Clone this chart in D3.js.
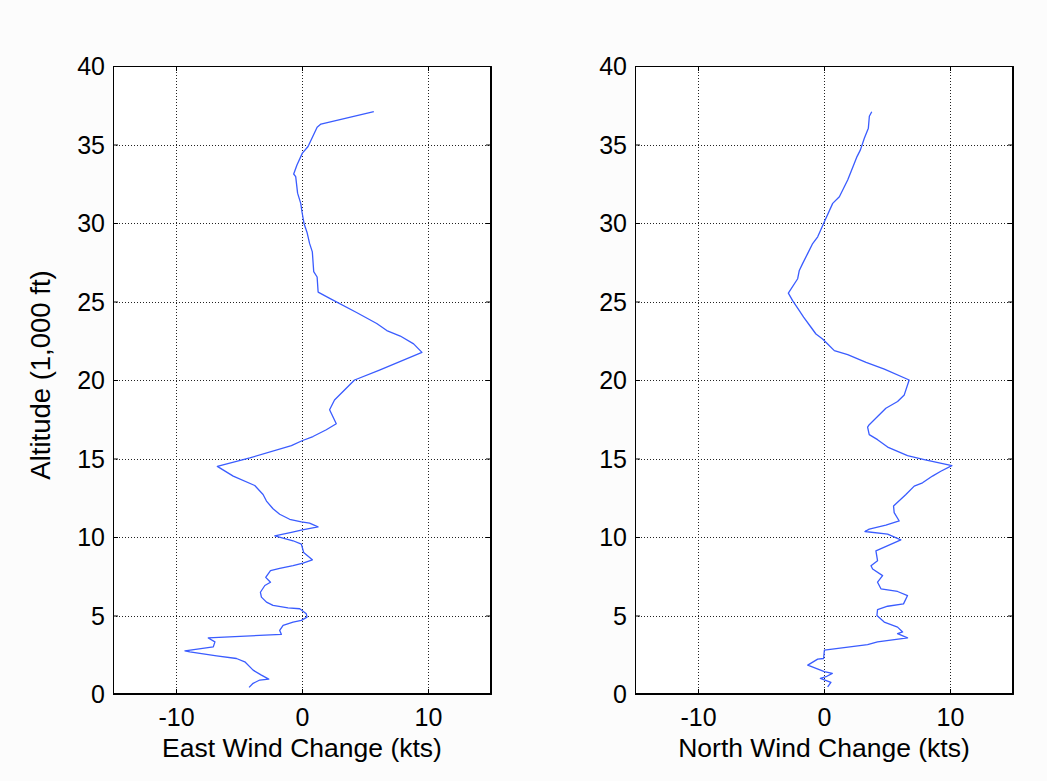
<!DOCTYPE html>
<html>
<head>
<meta charset="utf-8">
<script src="https://cdn.jsdelivr.net/npm/d3@7"></script>
<style>
  html, body { margin: 0; padding: 0; background: #fcfcfc; }
  svg text { font-family: "Liberation Sans", Arial, sans-serif; fill: #000; }
</style>
</head>
<body>
<svg id="chart" width="1047" height="781"></svg>
<script>
// Altitude in thousands of feet, wind change in knots
const eastAlt = [37.1, 36.3, 36.1, 34.87, 34.45, 33.7, 33.12, 32.95, 31.9, 31.25, 30.7, 29.97, 29.4, 28.7, 28.16, 26.9, 26.56, 25.6, 25.2, 24.3, 23.6, 23.15, 22.8, 22.3, 21.76, 20.63, 20.0, 18.73, 18.1, 17.21, 16.83, 16.4, 16.13, 15.82, 15.04, 14.5, 13.88, 13.28, 12.71, 12.29, 11.8, 11.45, 11.13, 10.96, 10.88, 10.64, 10.45, 10.29, 10.07, 9.76, 9.55, 9.02, 8.55, 8.34, 8.17, 8.0, 7.86, 7.43, 7.12, 6.91, 6.48, 6.17, 5.85, 5.64, 5.49, 5.43, 5.11, 4.9, 4.69, 4.58, 4.37, 4.05, 3.8, 3.57, 3.32, 3.0, 2.75, 2.68, 2.43, 2.26, 2.05, 1.52, 1.2, 0.95, 0.89, 0.68, 0.42];
const eastWind = [5.7, 1.5, 1.2, 0.48, 0.03, -0.4, -0.66, -0.5, -0.35, -0.1, 0.0, 0.16, 0.4, 0.6, 0.82, 0.93, 1.2, 1.28, 2.2, 4.33, 5.93, 6.73, 7.8, 8.86, 9.52, 6.15, 4.17, 2.58, 2.19, 2.72, 1.93, 0.87, 0.0, -0.84, -4.14, -6.72, -5.46, -3.75, -3.09, -2.82, -2.3, -1.77, -0.98, -0.05, 0.6, 1.27, 0.03, -0.84, -2.16, -0.71, -0.05, 0.13, 0.82, 0.08, -0.71, -1.77, -2.5, -2.88, -2.5, -2.95, -3.3, -3.22, -2.82, -2.3, -1.11, -0.18, 0.34, 0.4, -0.05, -0.71, -1.5, -1.77, -1.64, -7.44, -6.91, -7.04, -9.29, -8.9, -6.78, -5.2, -4.54, -3.88, -3.22, -2.64, -3.35, -3.88, -4.2];

const northAlt = [37.09, 36.8, 36.04, 35.4, 34.66, 34.23, 33.8, 32.74, 31.67, 31.25, 30.08, 29.12, 28.69, 28.05, 27.41, 26.98, 26.45, 25.53, 25.06, 24.42, 24.0, 23.36, 22.93, 22.61, 22.29, 21.87, 21.61, 21.12, 20.69, 20.0, 19.05, 18.63, 18.2, 17.67, 17.15, 17.0, 16.52, 16.2, 15.73, 15.18, 14.93, 14.55, 14.19, 13.88, 13.45, 13.24, 12.71, 11.97, 11.55, 11.02, 10.75, 10.5, 10.35, 10.18, 9.82, 9.12, 8.49, 8.17, 7.96, 7.54, 7.12, 6.7, 6.53, 6.27, 5.74, 5.59, 5.38, 5.0, 4.58, 4.26, 3.95, 3.84, 3.57, 3.32, 3.15, 2.79, 2.26, 2.22, 1.84, 1.42, 1.31, 1.1, 1.0, 0.74, 0.46];
const northWind = [3.79, 3.6, 3.52, 3.2, 2.89, 2.62, 2.41, 1.88, 1.22, 0.69, 0.03, -0.5, -0.9, -1.3, -1.7, -1.96, -2.09, -2.83, -2.49, -1.96, -1.62, -1.03, -0.64, -0.11, 0.29, 0.82, 1.88, 3.34, 4.79, 6.76, 6.37, 5.84, 4.91, 4.25, 3.59, 3.46, 3.59, 4.25, 5.05, 6.63, 7.95, 10.15, 9.27, 8.61, 7.82, 7.16, 6.5, 5.52, 5.57, 5.97, 4.91, 3.59, 3.25, 5.05, 6.1, 4.12, 4.25, 3.73, 3.86, 4.65, 4.25, 4.52, 5.84, 6.63, 6.31, 5.05, 4.25, 4.2, 4.78, 5.84, 6.24, 5.84, 6.63, 4.25, 3.46, 0.03, -0.03, -0.5, -1.29, 0.03, 0.66, 0.16, -0.29, 0.55, 0.29];

const xTicks = [-10, 0, 10];
const yTicks = [0, 5, 10, 15, 20, 25, 30, 35, 40];
const xTitles = ["East Wind Change (kts)", "North Wind Change (kts)"];
const yTitle = "Altitude (1,000 ft)";

const svg = d3.select("#chart");
const plotTop = 66, plotBottom = 694, plotW = 378;
const panels = [
  { left: 113, alt: eastAlt, wind: eastWind, title: xTitles[0] },
  { left: 635, alt: northAlt, wind: northWind, title: xTitles[1] }
];

const y = d3.scaleLinear().domain([0, 40]).range([plotBottom, plotTop]);
const plain = d => String(d);   // keep an ASCII hyphen for negatives

panels.forEach(p => {
  const x = d3.scaleLinear().domain([-15, 15]).range([p.left, p.left + plotW]);
  const g = svg.append("g");

  // plot background
  g.append("rect").attr("x", p.left).attr("y", plotTop)
    .attr("width", plotW).attr("height", plotBottom - plotTop).attr("fill", "#ffffff");

  // dotted grid
  g.append("g").selectAll("line").data(xTicks).join("line")
    .attr("x1", d => Math.round(x(d)) + 0.5).attr("x2", d => Math.round(x(d)) + 0.5)
    .attr("y1", plotTop).attr("y2", plotBottom)
    .attr("stroke", "#222").attr("stroke-width", 1).attr("stroke-dasharray", "1,2");
  g.append("g").selectAll("line").data(yTicks.slice(1, -1)).join("line")
    .attr("y1", d => Math.round(y(d)) + 0.5).attr("y2", d => Math.round(y(d)) + 0.5)
    .attr("x1", p.left).attr("x2", p.left + plotW)
    .attr("stroke", "#222").attr("stroke-width", 1).attr("stroke-dasharray", "1,2");

  // axes with inward ticks
  const ax = d3.axisBottom(x).tickValues(xTicks).tickSize(-5).tickPadding(0).tickFormat(plain);
  const ay = d3.axisLeft(y).tickValues(yTicks).tickSize(-5).tickPadding(0).tickFormat(plain);
  const axT = d3.axisTop(x).tickValues(xTicks).tickSize(-5).tickFormat("");
  const ayR = d3.axisRight(y).tickValues(yTicks).tickSize(-5).tickFormat("");

  const gx = g.append("g").attr("transform", `translate(0,${plotBottom})`).call(ax);
  gx.selectAll("text").attr("font-size", 25).attr("dy", null).attr("y", 32);
  const gy = g.append("g").attr("transform", `translate(${p.left},0)`).call(ay);
  gy.selectAll("text").attr("font-size", 25).attr("x", -8).attr("dy", "0.35em");
  g.append("g").attr("transform", `translate(0,${plotTop})`).call(axT);
  g.append("g").attr("transform", `translate(${p.left + plotW},0)`).call(ayR);
  g.selectAll(".domain").attr("stroke", "#000");
  g.selectAll(".tick line").attr("stroke", "#000");

  // wind profile
  const pts = p.alt.map((a, i) => [p.wind[i], a]);
  g.append("path").datum(pts)
    .attr("fill", "none").attr("stroke", "#3a5cff").attr("stroke-width", 1.3)
    .attr("stroke-linejoin", "round")
    .attr("d", d3.line().x(d => x(d[0])).y(d => y(d[1])));

  // frame
  g.append("rect").attr("x", p.left + 0.5).attr("y", plotTop + 0.5)
    .attr("width", plotW - 1).attr("height", plotBottom - plotTop - 1)
    .attr("fill", "none").attr("stroke", "#000");

  g.append("text").attr("x", p.left + plotW / 2).attr("y", 757)
    .attr("text-anchor", "middle").attr("font-size", 26.5).text(p.title);
});

svg.append("text")
  .attr("transform", "translate(50,375) rotate(-90)")
  .attr("text-anchor", "middle").attr("font-size", 27.5).text(yTitle);
</script>
</body>
</html>
